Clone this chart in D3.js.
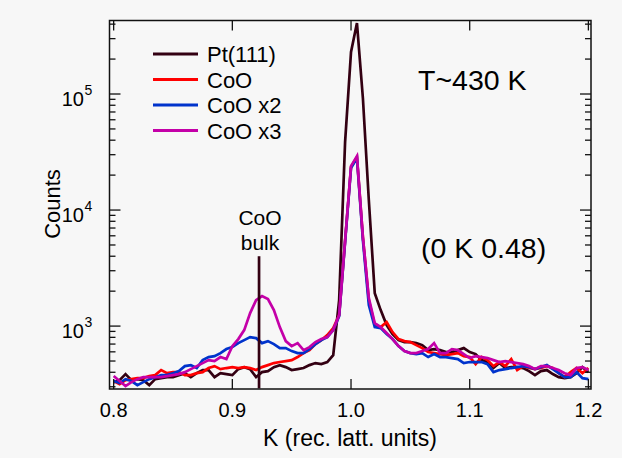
<!DOCTYPE html>
<html><head><meta charset="utf-8">
<script src="https://cdn.jsdelivr.net/npm/d3@7"></script>
<style>body{margin:0;background:#f7f7f7;}svg{display:block;}text{font-family:"Liberation Sans",Arial,sans-serif;fill:#000;}</style>
</head><body><svg id="c" width="622" height="458"></svg>
<script>
const K = [0.800,0.805,0.810,0.815,0.820,0.825,0.830,0.835,0.840,0.845,0.850,0.855,0.860,0.865,0.870,0.875,0.880,0.885,0.890,0.895,
0.900,0.905,0.910,0.915,0.920,0.925,0.930,0.935,0.940,0.945,0.950,0.955,0.960,0.965,0.970,0.975,0.980,0.985,0.990,0.995,
1.000,1.005,1.010,1.015,1.020,1.025,1.030,1.035,1.040,1.045,1.050,1.055,1.060,1.065,1.070,1.075,1.080,1.085,1.090,1.095,
1.100,1.105,1.110,1.115,1.120,1.125,1.130,1.135,1.140,1.145,1.150,1.155,1.160,1.165,1.170,1.175,1.180,1.185,1.190,1.195,1.200];
const pt111 = [329,342,386,342,349,342,310,349,356,363,363,378,393,363,393,418,418,363,393,386,
378,426,443,426,363,401,409,443,461,443,418,426,435,461,480,470,490,562,1675,38500,
230000,409000,92400,12200,1920,1374,1020,853,757,728,728,713,686,621,634,621,597,597,621,646,
597,574,509,490,435,480,435,443,443,435,409,378,409,418,386,363,356,363,393,443,401];
const coo = [336,316,342,349,356,356,371,378,418,393,401,401,378,378,393,401,435,452,426,435,
443,435,443,435,418,443,461,480,490,499,509,541,585,621,699,757,836,961,1244,5410,
23500,28600,5850,1675,1020,980,1083,888,773,742,728,686,646,597,585,574,562,574,585,551,
541,470,541,509,452,490,452,520,418,452,435,426,435,452,435,393,363,401,435,393,435];
const coo2 = [336,323,349,336,310,329,349,363,378,378,393,409,452,461,435,509,541,551,585,634,
659,713,757,804,788,713,742,699,646,646,609,585,585,634,699,757,804,924,1219,5300,
23000,28100,5510,1516,980,961,853,773,672,609,585,574,585,541,574,541,541,530,520,480,
490,490,490,470,401,418,426,435,443,452,443,426,443,461,426,393,363,363,401,356,349];
const coo3 = [371,336,304,329,349,363,363,363,363,371,378,386,401,426,452,480,509,499,541,520,
672,773,924,1294,1675,1814,1710,1374,980,742,672,713,621,659,728,773,804,924,1244,5410,
23900,29200,5850,1743,1062,980,871,773,672,609,585,585,609,634,713,585,585,634,621,574,
530,551,541,530,509,490,499,490,480,470,452,426,452,452,435,418,393,378,435,443,418];
const seriesNames = ["Pt(111)","CoO","CoO x2","CoO x3"];
const seriesColors = ["#330012","#ff0000","#0033cc","#c400a8"];
const xTicks = [0.8,0.9,1.0,1.1,1.2];
const xTickLabels = ["0.8","0.9","1.0","1.1","1.2"];
const yMajor = [1e3,1e4,1e5];
const yMajorExp = ["3","4","5"];
const bulkK = 0.9225, bulkRange = [4000, 290];

const svg = d3.select("#c");
svg.append("rect").attr("width",622).attr("height",458).attr("fill","#f7f7f7");
const L=109.5,R=591,T=20.5,B=389;
const x = d3.scaleLinear().domain([0.7965,1.2022]).range([L,R]);
const y = d3.scaleLog().domain([287,430000]).range([B,T]);

const g = svg.append("g");
svg.append("clipPath").attr("id","cp").append("rect").attr("x",L).attr("y",T).attr("width",R-L).attr("height",B-T);
const data = [pt111,coo,coo2,coo3];
const line = d3.line().x((d,i)=>x(K[i])).y(d=>y(d));
const plot = g.append("g").attr("clip-path","url(#cp)");
data.forEach((s,j)=>{
  plot.append("path").attr("d",line(s)).attr("fill","none").attr("stroke",seriesColors[j])
   .attr("stroke-width",2.7).attr("stroke-linejoin","miter");
});
plot.append("line").attr("x1",x(bulkK)).attr("x2",x(bulkK)).attr("y1",y(bulkRange[0])).attr("y2",y(bulkRange[1]))
  .attr("stroke","#330012").attr("stroke-width",2.7);

// frame
g.append("rect").attr("x",L).attr("y",T).attr("width",R-L).attr("height",B-T).attr("fill","none").attr("stroke","#111").attr("stroke-width",1.5);
// x ticks
xTicks.forEach((t,i)=>{
  g.append("line").attr("x1",x(t)).attr("x2",x(t)).attr("y1",B).attr("y2",B-10).attr("stroke","#111").attr("stroke-width",1.3);
  g.append("line").attr("x1",x(t)).attr("x2",x(t)).attr("y1",T).attr("y2",T+10).attr("stroke","#111").attr("stroke-width",1.3);
  g.append("text").attr("x",x(t)).attr("y",417).attr("text-anchor","middle").attr("font-size",20).text(xTickLabels[i]);
});
// y ticks
const yMinor=[];
[100,1000,10000,100000].forEach(d=>{for(let m=2;m<=9;m++){const v=d*m; if(v>=287&&v<=430000) yMinor.push(v);}});
yMinor.forEach(v=>{
  g.append("line").attr("x1",L).attr("x2",L+6).attr("y1",y(v)).attr("y2",y(v)).attr("stroke","#111").attr("stroke-width",1.3);
  g.append("line").attr("x1",R).attr("x2",R-6).attr("y1",y(v)).attr("y2",y(v)).attr("stroke","#111").attr("stroke-width",1.3);
});
yMajor.forEach((v,i)=>{
  g.append("line").attr("x1",L).attr("x2",L+11).attr("y1",y(v)).attr("y2",y(v)).attr("stroke","#111").attr("stroke-width",1.3);
  g.append("line").attr("x1",R).attr("x2",R-11).attr("y1",y(v)).attr("y2",y(v)).attr("stroke","#111").attr("stroke-width",1.3);
  g.append("text").attr("x",84).attr("y",y(v)+12).attr("text-anchor","end").attr("font-size",20).text("10");
  g.append("text").attr("x",84.5).attr("y",y(v)+1).attr("font-size",14).text(yMajorExp[i]);
});
// axis titles
g.append("text").attr("x",350).attr("y",446).attr("text-anchor","middle").attr("font-size",23).text("K (rec. latt. units)");
g.append("text").attr("transform","translate(60,204) rotate(-90)").attr("text-anchor","middle").attr("font-size",22).text("Counts");
// legend
seriesNames.forEach((n,i)=>{
  const yy = 54 + i*25.5;
  g.append("line").attr("x1",153).attr("x2",198).attr("y1",yy).attr("y2",yy).attr("stroke",seriesColors[i]).attr("stroke-width",2.8);
  g.append("text").attr("x",207).attr("y",yy+8).attr("font-size",22).text(n);
});
// annotations
g.append("text").attr("x",418).attr("y",90).attr("font-size",28.5).text("T~430 K");
g.append("text").attr("x",421).attr("y",258).attr("font-size",28.5).text("(0 K 0.48)");
g.append("text").attr("x",260).attr("y",225).attr("text-anchor","middle").attr("font-size",21).text("CoO");
g.append("text").attr("x",260).attr("y",250).attr("text-anchor","middle").attr("font-size",21).text("bulk");
</script></body></html>
